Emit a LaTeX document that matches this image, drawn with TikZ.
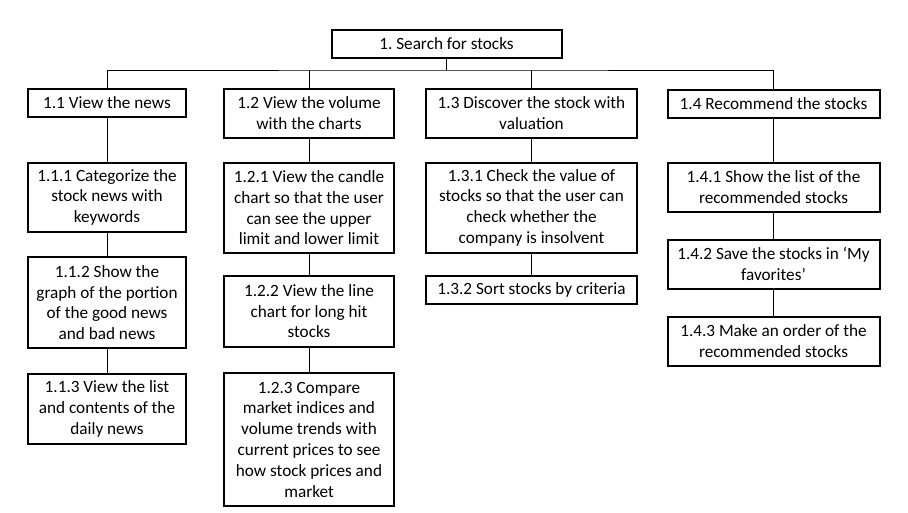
\documentclass[tikz,border=0pt]{standalone}
\usepackage{fontspec}
\setmainfont{Carlito}
\frenchspacing

\begin{document}
\begin{tikzpicture}[x=1pt,y=-1pt,
  tbox/.style={draw=black,line width=2pt,align=center,anchor=north,inner sep=0pt,
    font=\fontsize{17.2}{20.8}\selectfont},
  colA/.style={tbox,minimum width=158pt},
  colB/.style={tbox,minimum width=170pt},
  colC/.style={tbox,minimum width=211pt},
  colD/.style={tbox,minimum width=212pt},
  link/.style={draw=black,line width=0.9pt}]
  \useasboundingbox (0,0) rectangle (908,512);
  \node[tbox,minimum width=230pt,minimum height=27.5pt] (root) at (446.5,29) {1. Search for stocks};
  % first level
  \node[colA,minimum height=28pt] (n11) at (107,87.5) {1.1 View the news};
  \node[colB,minimum height=49.5pt] (n12) at (309,87.5) {1.2 View the volume\\with the charts};
  \node[colC,minimum height=49.5pt] (n13) at (531.5,87.5) {1.3 Discover the stock with\\valuation};
  \node[colD,minimum height=28.5pt] (n14) at (773.5,88.5) {1.4 Recommend the stocks};
  % 1.1
  \node[colA,minimum height=69.5pt] (n111) at (107,161.5) {1.1.1 Categorize the\\stock news with\\keywords};
  \node[colA,minimum height=91pt] (n112) at (107,256) {1.1.2 Show the\\graph of the portion\\of the good news\\and bad news};
  \node[colA,minimum height=70pt] (n113) at (107,373) {1.1.3 View the list\\and contents of the\\daily news};
  % 1.2
  \node[colB,minimum height=90.5pt] (n121) at (309,161.5) {1.2.1 View the candle\\chart so that the user\\can see the upper\\limit and lower limit};
  \node[colB,minimum height=71.5pt] (n122) at (309,274.5) {1.2.2 View the line\\chart for long hit\\stocks};
  \node[colB,minimum height=133pt] (n123) at (309,372) {1.2.3 Compare\\market indices and\\volume trends with\\current prices to see\\how stock prices and\\market};
  % 1.3
  \node[colC,minimum height=90.5pt] (n131) at (531.5,161.5) {1.3.1 Check the value of\\stocks so that the user can\\check whether the\\company is insolvent};
  \node[colC,minimum height=28.5pt] (n132) at (531.5,274.5) {1.3.2 Sort stocks by criteria};
  % 1.4
  \node[colD,minimum height=49.5pt] (n141) at (773.5,161.5) {1.4.1 Show the list of the\\recommended stocks};
  \node[colD,minimum height=49.5pt] (n142) at (773.5,238.5) {1.4.2 Save the stocks in ‘My\\favorites’};
  \node[colD,minimum height=49.5pt] (n143) at (773.5,315.5) {1.4.3 Make an order of the\\recommended stocks};
  \coordinate (bar) at (446.5,70);
  \begin{scope}[link]
    \draw (root) -- (bar);
    \draw (n11.north) |- (bar) -| (n14.north);
    \draw (n12.north) -- (n12.north |- bar);
    \draw (n13.north) -- (n13.north |- bar);
    \draw (n11) -- (n111);
    \draw (n111) -- (n112);
    \draw (n112) -- (n113);
    \draw (n12) -- (n121);
    \draw (n121) -- (n122);
    \draw (n122) -- (n123);
    \draw (n13) -- (n131);
    \draw (n131) -- (n132);
    \draw (n14) -- (n141);
    \draw (n141) -- (n142);
    \draw (n142) -- (n143);
  \end{scope}
\end{tikzpicture}
\end{document}
